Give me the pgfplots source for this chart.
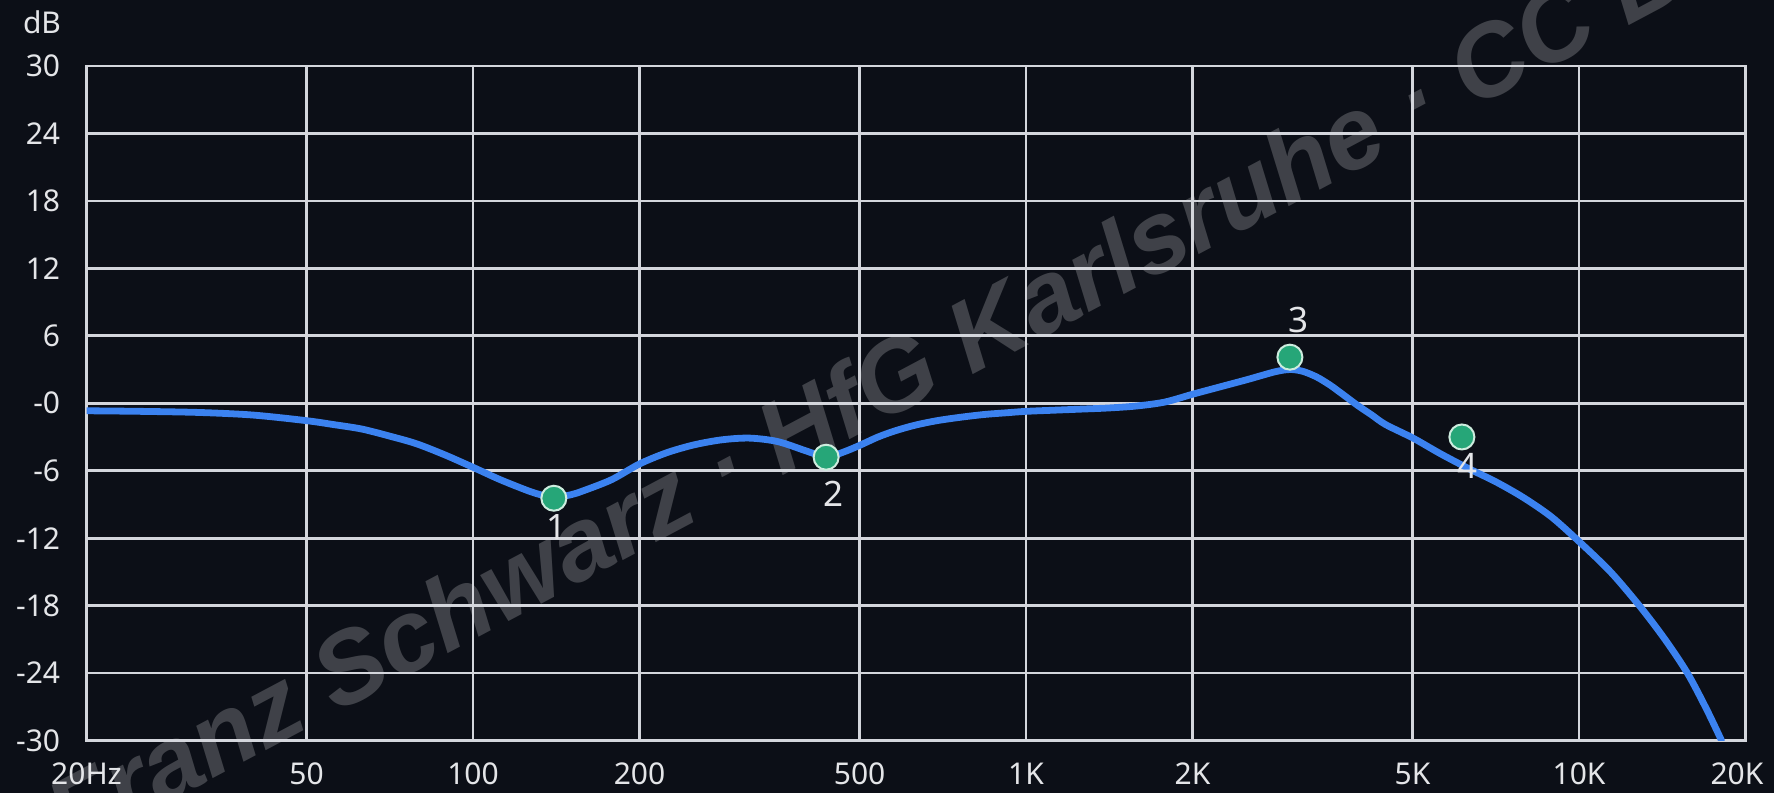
\documentclass[border=0pt]{standalone}
\usepackage{pgfplots}
\pgfplotsset{compat=1.18}
\usepackage{fontspec}
\setmainfont{Noto Sans}
\newfontfamily\wmfont{Liberation Sans}
\definecolor{bg}{RGB}{12,15,23}
\definecolor{gridc}{RGB}{212,214,220}
\definecolor{tickc}{RGB}{228,229,232}
\definecolor{curve}{RGB}{59,130,240}
\definecolor{ptgreen}{RGB}{38,166,120}
\definecolor{ptborder}{RGB}{205,236,222}
\begin{document}
\begin{tikzpicture}
\fill[bg] (0,0) rectangle (887pt,396.5pt);
\begin{scope}
\clip (0,0) rectangle (887pt,396.5pt);
\node[rotate=28, anchor=base, text=white, opacity=0.21, inner sep=0pt,
  font=\wmfont\fontsize{51}{58}\selectfont\bfseries\itshape] at (456pt,193pt)
  {Franz Schwarz · HfG Karlsruhe · CC BY};
\end{scope}
\node[anchor=center, text=tickc, inner sep=0pt, font=\fontsize{15}{18}\selectfont] at (21pt,385.5pt) {dB};
\begin{axis}[
  at={(43.25pt,26.25pt)}, anchor=south west,
  scale only axis, width=829.5pt, height=337.25pt,
  xmode=log, xmin=20, xmax=20000, ymin=-30, ymax=30,
  xtick={20,50,100,200,500,1000,2000,5000,10000,20000},
  xticklabels={20Hz,50,100,200,500,1K,2K,5K,10K,20K\kern8.5pt},
  minor xtick={}, minor x tick num=0,
  ytick={-30,-24,-18,-12,-6,0,6,12,18,24,30},
  yticklabels={-30,-24,-18,-12,-6,-0,6,12,18,24,30},
  major tick length=0pt, tick style={draw=none},
  grid=major, xminorgrids=false,
  major grid style={color=gridc, line width=1.4pt},
  axis line style={color=gridc, line width=1.4pt},
  ticklabel style={text=tickc, font=\fontsize{15}{18}\selectfont, inner sep=0pt},
  yticklabel style={anchor=east, xshift=-13pt},
  xticklabel style={anchor=north, yshift=-11pt},
]
\addplot[only marks, mark=*, mark size=0pt, mark options={draw=none,fill=none},
  nodes near coords, point meta=explicit symbolic,
  every node near coord/.append style={anchor=center, inner sep=0pt, text=tickc,
    font=\fontsize{17.5}{20}\selectfont}]
  coordinates {(141.8,-11.0)[1] (447.9,-8.1)[2] (3111,7.4)[3] (6283,-5.6)[4]};
\addplot[color=curve, line width=3.4pt, smooth, line cap=round] coordinates {
(20,-0.67) (25,-0.72) (32,-0.82) (40,-1.05) (50,-1.55) (56,-1.9) (63,-2.3)
(71,-2.95) (79,-3.6) (89,-4.6) (100,-5.7) (112,-6.8) (126,-7.8) (134,-8.2)
(141,-8.35) (150,-8.15) (158,-7.8) (178,-6.8) (200,-5.4) (224,-4.4) (251,-3.7)
(282,-3.25) (316,-3.1) (355,-3.4) (398,-4.2) (420,-4.6) (435,-4.85)
(470,-4.3) (500,-3.75) (540,-3.0) (580,-2.45) (630,-1.95) (690,-1.55)
(760,-1.25) (840,-1.0) (920,-0.85) (1000,-0.72) (1120,-0.62) (1260,-0.52)
(1410,-0.42) (1580,-0.25) (1780,0.1) (2000,0.8) (2240,1.45) (2510,2.1)
(2820,2.8) (3000,3.0) (3160,2.85) (3350,2.35) (3550,1.6) (3760,0.7) (3980,-0.2)
(4220,-1.05) (4470,-1.9) (5010,-3.1) (5620,-4.5) (6310,-5.8) (7080,-7.0) (7940,-8.4)
(8910,-10.1) (10000,-12.3) (11400,-15.0) (12900,-18.1) (14300,-21.0)
(15700,-24.0) (17000,-27.2) (18100,-30)
};
\addplot[only marks, mark=*, mark size=6.25pt,
  mark options={fill=ptgreen, draw=ptborder, line width=1pt}]
  coordinates {(140,-8.45) (435,-4.8) (3000,4.1) (6140,-3.0)};
\end{axis}
\pgfresetboundingbox
\path (0,0) rectangle (887pt,396.5pt);
\end{tikzpicture}
\end{document}
